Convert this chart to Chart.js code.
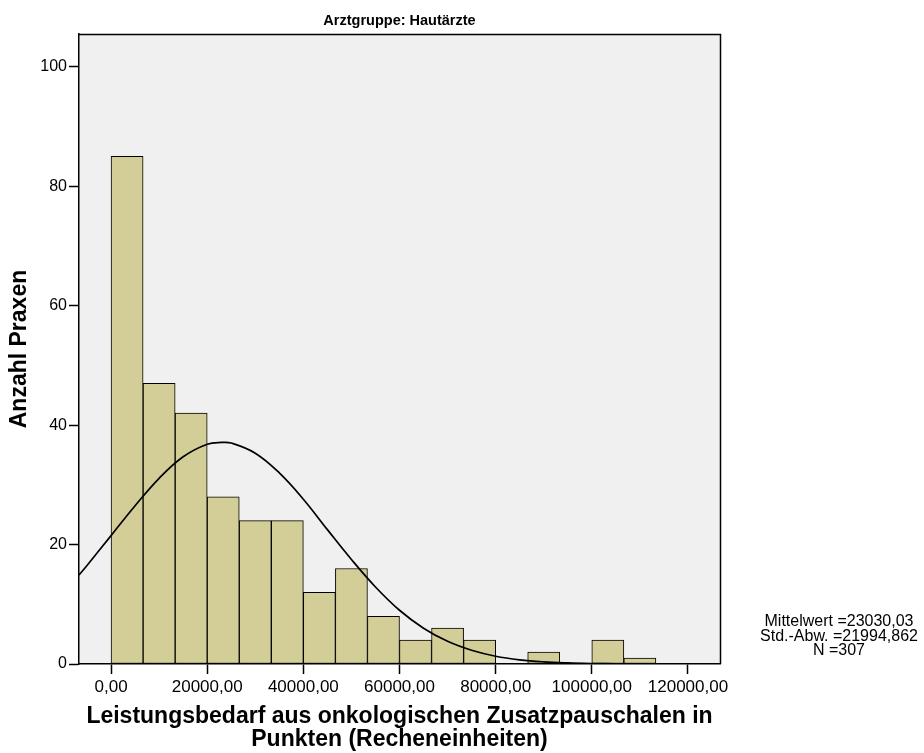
<!DOCTYPE html>
<html>
<head>
<meta charset="utf-8">
<script src="https://cdn.jsdelivr.net/npm/chart.js@4.4.1/dist/chart.umd.min.js"></script>
<style>
  html, body { margin: 0; padding: 0; background: #fff; }
</style>
</head>
<body>
<canvas id="histo" width="924" height="753"></canvas>
<script>
// histogram bins (centres) and counts
const binCenters = [3333.33, 10000, 16666.67, 23333.33, 30000, 36666.67, 43333.33, 50000, 56666.67,
  63333.33, 70000, 76666.67, 83333.33, 90000, 96666.67, 103333.33, 110000];
const counts = [85, 47, 42, 28, 24, 24, 12, 16, 8, 4, 6, 4, 0, 2, 0, 4, 1];

// normal curve
const curveX = [-6666.67, -5000, 0, 5000, 10000, 15000, 20000, 23030, 25000, 30000, 35000, 40000,
  45000, 50000, 55000, 60000, 65000, 70000, 75000, 80000, 85000, 90000, 95000, 100000, 105000,
  110000, 115000, 120000, 126666.67];
const curveY = [14.9, 16.5, 21.5, 26.5, 31.1, 34.7, 36.8, 37.1, 37.0, 35.3, 32.0, 27.6,
  22.5, 17.5, 12.9, 9.0, 6.0, 3.8, 2.3, 1.3, 0.7, 0.36, 0.18, 0.08, 0.03,
  0.01, 0.0, 0.0, 0.0];

const xTicks = [0, 20000, 40000, 60000, 80000, 100000, 120000];
const yTicks = [0, 20, 40, 60, 80, 100];

const chartTitle = "Arztgruppe: Hautärzte";
const xTitle = ["Leistungsbedarf aus onkologischen Zusatzpauschalen in", "Punkten (Recheneinheiten)"];
const yTitle = "Anzahl Praxen";
const statsLines = ["Mittelwert =23030,03", "Std.-Abw. =21994,862", "N =307"];

const FONT = "'Liberation Sans', Arial, sans-serif";

const decorPlugin = {
  id: 'decor',
  beforeDraw(chart) {
    const { ctx, chartArea: a } = chart;
    ctx.save();
    ctx.fillStyle = '#f0f0f0';
    ctx.fillRect(a.left, a.top, a.right - a.left, a.bottom - a.top);
    ctx.restore();
  },
  afterDraw(chart) {
    const { ctx, chartArea: a } = chart;
    ctx.save();
    // frame top + right
    ctx.strokeStyle = '#000';
    ctx.lineWidth = 1.5;
    ctx.beginPath();
    ctx.moveTo(a.left, a.top + 0.5);
    ctx.lineTo(a.right + 0.5, a.top + 0.5);
    ctx.lineTo(a.right + 0.5, a.bottom);
    ctx.stroke();

    ctx.fillStyle = '#000';
    ctx.textAlign = 'center';
    ctx.textBaseline = 'middle';
    const cx = (a.left + a.right) / 2;

    ctx.font = 'bold 14.5px ' + FONT;
    ctx.fillText(chartTitle, cx, 21);

    ctx.font = 'bold 23px ' + FONT;
    ctx.fillText(xTitle[0], cx, 717);
    ctx.fillText(xTitle[1], cx, 740);

    ctx.save();
    ctx.translate(20, (a.top + a.bottom) / 2);
    ctx.rotate(-Math.PI / 2);
    ctx.fillText(yTitle, 0, 0);
    ctx.restore();

    ctx.font = '16px ' + FONT;
    statsLines.forEach((s, i) => ctx.fillText(s, 839, 622 + i * 14.5));
    ctx.restore();
  }
};

const fmt = v => v.toFixed(2).replace('.', ',');

new Chart(document.getElementById('histo'), {
  type: 'bar',
  data: {
    datasets: [{
      type: 'line',
      data: curveX.map((x, i) => ({ x: x, y: curveY[i] })),
      borderColor: '#000',
      borderWidth: 1.7,
      pointRadius: 0,
      tension: 0.4,
      fill: false,
      order: 0
    }, {
      type: 'bar',
      data: binCenters.map((x, i) => ({ x: x, y: counts[i] })),
      backgroundColor: '#d3ce98',
      borderColor: '#000',
      borderWidth: 1,
      borderSkipped: false,
      barPercentage: 1,
      categoryPercentage: 1,
      order: 1
    }]
  },
  options: {
    responsive: false,
    animation: false,
    devicePixelRatio: 1,
    layout: { padding: { left: 0, right: 204, top: 34, bottom: 0 } },
    plugins: {
      legend: { display: false },
      tooltip: { enabled: false },
      title: { display: false }
    },
    scales: {
      x: {
        type: 'linear',
        min: -6666.67,
        max: 126666.67,
        offset: false,
        afterBuildTicks: s => { s.ticks = xTicks.map(v => ({ value: v })); },
        afterFit: s => { s.height = 89; },
        grid: { offset: false, drawOnChartArea: false, drawTicks: true, tickLength: 10, tickColor: '#000', tickWidth: 1.5 },
        border: { display: true, color: '#000', width: 1.5 },
        ticks: {
          color: '#000',
          padding: 3,
          maxRotation: 0,
          autoSkip: false,
          font: { family: FONT, size: 17 },
          callback: v => fmt(v)
        }
      },
      y: {
        min: 0,
        max: 105.5,
        afterBuildTicks: s => { s.ticks = yTicks.map(v => ({ value: v })); },
        afterFit: s => { s.width = 79; },
        grid: { drawOnChartArea: false, drawTicks: true, tickLength: 10, tickColor: '#000', tickWidth: 1.5 },
        border: { display: true, color: '#000', width: 1.5 },
        ticks: {
          color: '#000',
          padding: 2,
          font: { family: FONT, size: 16 },
          callback: v => String(v)
        }
      }
    }
  },
  plugins: [decorPlugin]
});
</script>
</body>
</html>
